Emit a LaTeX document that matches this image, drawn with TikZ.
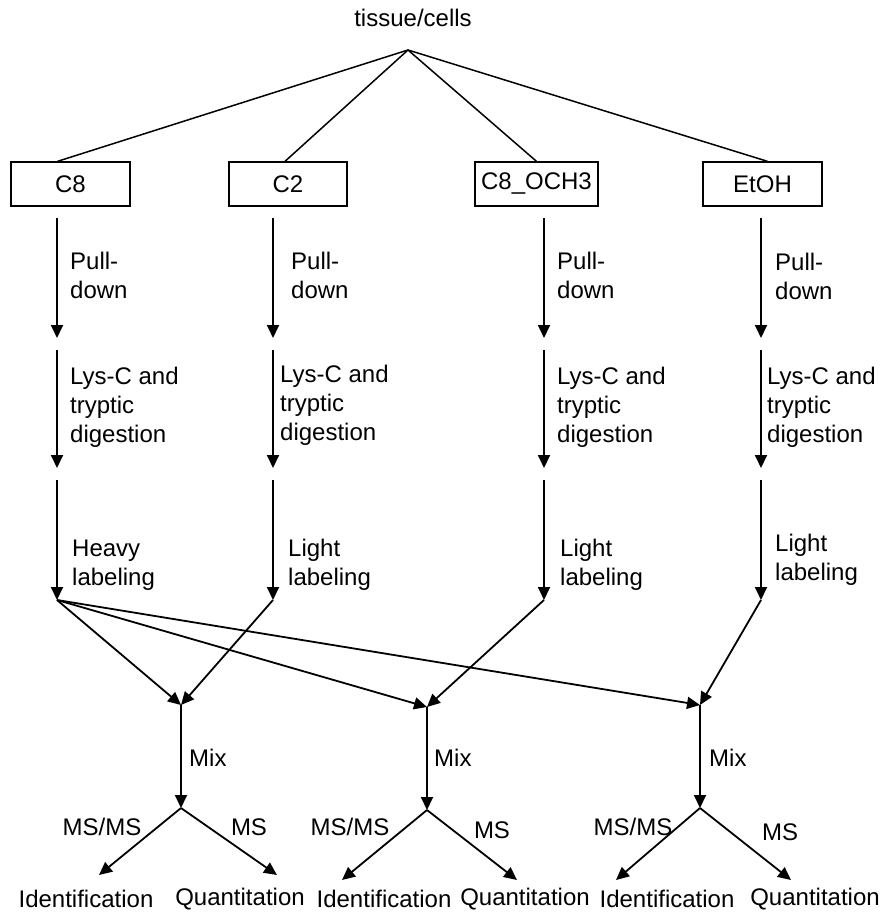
\documentclass[tikz,border=0pt]{standalone}
\usepackage{fontspec}
\setmainfont{Liberation Sans}
\usetikzlibrary{arrows.meta,positioning}
\tikzset{
  txt/.style={font=\fontsize{24}{29}\selectfont, inner sep=0pt},
  box/.style={txt, draw, line width=1.3pt, minimum height=44pt},
  lbl/.style={txt, align=left, anchor=west},
  arr/.style={-{Triangle[length=13pt,width=12pt]}, line width=1.8pt},
  ln/.style={line width=1.5pt}
}

\begin{document}
\begin{tikzpicture}[x=1pt,y=-1pt]
  \useasboundingbox (0,0) rectangle (885,913);

  \node[txt] (tc) at (413,18) {tissue/cells};
  \coordinate (apex) at (408,50);

  % probes
  \node[box, minimum width=119pt] (c8)   at (70.5,184)  {C8\hspace{28pt}};
  \node[box, minimum width=118pt] (c2)   at (288,184)   {C2};
  \node[box, minimum width=123pt] (c8o)  at (536.5,184) {C8\_OCH3};
  \node[box, minimum width=119pt] (etoh) at (762.5,184) {EtOH};

  \draw[ln] (apex) -- ([xshift=-13pt]c8.north);
  \draw[ln] (apex) -- ([xshift=-3pt]c2.north);
  \draw[ln] (apex) -- (c8o.north);
  \draw[ln] (apex) -- ([xshift=5pt]etoh.north);

  % column C8
  \coordinate (c8a) at (57,218); \coordinate (c8b) at (57,338);
  \coordinate (c8c) at (57,350); \coordinate (c8d) at (57,468);
  \coordinate (c8e) at (57,480); \coordinate (c8f) at (57,600);
  % column C2
  \coordinate (c2a) at (273,218); \coordinate (c2b) at (273,338);
  \coordinate (c2c) at (273,350); \coordinate (c2d) at (273,468);
  \coordinate (c2e) at (273,480); \coordinate (c2f) at (273,600);
  % column C8_OCH3
  \coordinate (c8oa) at (544,218); \coordinate (c8ob) at (544,338);
  \coordinate (c8oc) at (544,350); \coordinate (c8od) at (544,468);
  \coordinate (c8oe) at (544,480); \coordinate (c8of) at (544,600);
  % column EtOH
  \coordinate (eta) at (761,218); \coordinate (etb) at (761,338);
  \coordinate (etc) at (761,350); \coordinate (etd) at (761,468);
  \coordinate (ete) at (761,480); \coordinate (etf) at (761,600);

  \draw[arr] (c8a) -- (c8b);  \draw[arr] (c8c) -- (c8d);  \draw[arr] (c8e) -- (c8f);
  \draw[arr] (c2a) -- (c2b);  \draw[arr] (c2c) -- (c2d);  \draw[arr] (c2e) -- (c2f);
  \draw[arr] (c8oa) -- (c8ob); \draw[arr] (c8oc) -- (c8od); \draw[arr] (c8oe) -- (c8of);
  \draw[arr] (eta) -- (etb);  \draw[arr] (etc) -- (etd);  \draw[arr] (ete) -- (etf);

  \node[lbl] (pd1) at (70,275)  {Pull-\\down};
  \node[lbl] (pd2) at (291,275) {Pull-\\down};
  \node[lbl] (pd3) at (557,275) {Pull-\\down};
  \node[lbl] (pd4) at (775,276) {Pull-\\down};

  \node[lbl] (dg1) at (70,407)  {Lys-C and\\tryptic\\digestion};
  \node[lbl] (dg2) at (280,405) {Lys-C and\\tryptic\\digestion};
  \node[lbl] (dg3) at (557,407) {Lys-C and\\tryptic\\digestion};
  \node[lbl] (dg4) at (767,407) {Lys-C and\\tryptic\\digestion};

  \node[lbl] (lb1) at (72,565)  {Heavy\\labeling};
  \node[lbl] (lb2) at (288,565) {Light\\labeling};
  \node[lbl] (lb3) at (560,565) {Light\\labeling};
  \node[lbl] (lb4) at (775,560) {Light\\labeling};

  % mixing
  \coordinate (m1) at (181,705); \coordinate (m1s) at (181,808);
  \coordinate (m2) at (427,707); \coordinate (m2s) at (427,810);
  \coordinate (m3) at (700,705); \coordinate (m3s) at (700,808);

  \draw[arr] (c8f) -- (m1);
  \draw[arr] (c8f) -- (m2);
  \draw[arr] (c8f) -- (m3);
  \draw[arr] (c2f) -- (m1);
  \draw[arr] (c8of) -- (m2);
  \draw[arr] (etf) -- (m3);

  \draw[arr] (m1) -- (m1s);
  \draw[arr] (m2) -- (m2s);
  \draw[arr] (m3) -- (m3s);
  \node[lbl] (mx1) at (189,758) {Mix};
  \node[lbl] (mx2) at (434,758) {Mix};
  \node[lbl] (mx3) at (709,758) {Mix};

  % analysis
  \node[txt] (id1) at (86,899)  {Identification};
  \node[txt] (qt1) at (240,899) {Quantitation};
  \node[txt] (id2) at (384,899) {Identification};
  \node[txt] (qt2) at (525,899) {Quantitation};
  \node[txt] (id3) at (667,899) {Identification};
  \node[txt] (qt3) at (815,899) {Quantitation};

  \coordinate (t1) at (99,875);  \coordinate (t2) at (277,875);
  \coordinate (t3) at (342,880); \coordinate (t4) at (517,880);
  \coordinate (t5) at (616,880); \coordinate (t6) at (791,880);

  \draw[arr] (m1s) -- (t1); \draw[arr] (m1s) -- (t2);
  \draw[arr] (m2s) -- (t3); \draw[arr] (m2s) -- (t4);
  \draw[arr] (m3s) -- (t5); \draw[arr] (m3s) -- (t6);

  \node[txt] (ms1) at (102,827) {MS/MS};
  \node[txt] (s1)  at (249,827) {MS};
  \node[txt] (ms2) at (350,827) {MS/MS};
  \node[txt] (s2)  at (492,830) {MS};
  \node[txt] (ms3) at (633,827) {MS/MS};
  \node[txt] (s3)  at (780,832) {MS};
\end{tikzpicture}
\end{document}
